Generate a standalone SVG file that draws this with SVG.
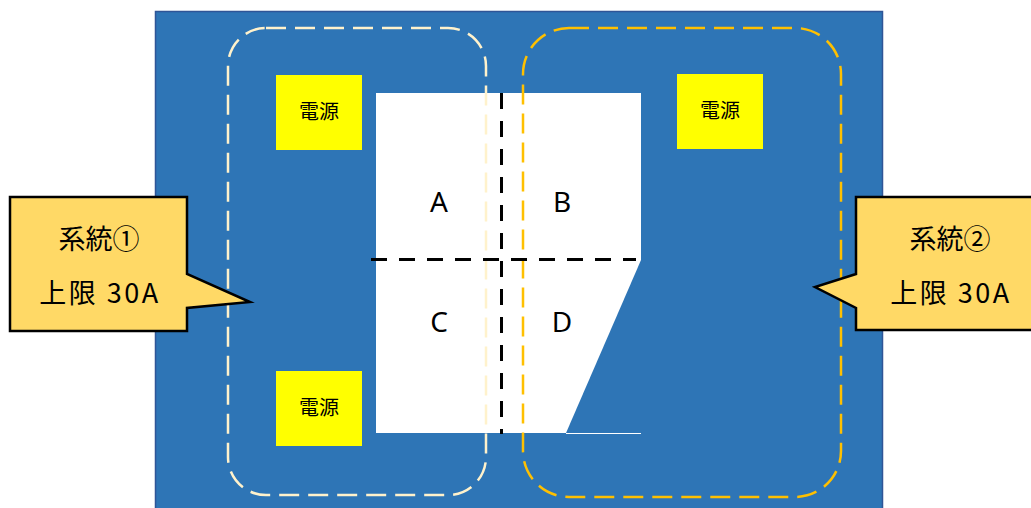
<svg xmlns="http://www.w3.org/2000/svg" width="1031" height="508" viewBox="0 0 1031 508">
<style>
.pwr{fill:#FFFF00}
.ptxt{font-family:"Noto Sans CJK JP","Noto Sans",sans-serif;font-size:20px;fill:#000;text-anchor:middle}
.lbl{font-family:"Noto Sans","Noto Sans CJK JP",sans-serif;font-size:28px;fill:#000;text-anchor:middle}
.ctxt{font-family:"Noto Sans CJK JP","Noto Sans",sans-serif;font-size:27px;fill:#000;text-anchor:middle}
.wide{letter-spacing:2.5px}
.call{fill:#FFD966;stroke:#000;stroke-width:2.5;stroke-linejoin:miter}
.div{stroke:#000;stroke-width:3;stroke-dasharray:16 12;fill:none}
</style>
<rect id="panel" x="155.5" y="11.5" width="727" height="510" fill="#2E75B6" stroke="#2F5597" stroke-width="1.5"/>
<g id="area">
<polygon points="376,93 641,93 641,260 566,433 376,433" fill="#FFFFFF"/>
<line x1="566" y1="433.5" x2="641" y2="433.5" stroke="#FFFFFF" stroke-width="1"/>
</g>
<g id="power1"><rect class="pwr" x="276" y="75" width="86" height="75"/><text class="ptxt" x="319" y="119">電源</text></g>
<g id="power2"><rect class="pwr" x="276" y="371" width="86" height="75"/><text class="ptxt" x="319" y="415">電源</text></g>
<g id="power3"><rect class="pwr" x="677" y="74" width="86" height="75"/><text class="ptxt" x="720" y="118">電源</text></g>
<g id="labels">
<text class="lbl" x="439" y="212">A</text>
<text class="lbl" x="562" y="212">B</text>
<text class="lbl" x="439" y="332">C</text>
<text class="lbl" x="562" y="332">D</text>
</g>
<g id="connectors">
<rect id="system1" x="228" y="28" width="258" height="467" rx="38" ry="38" fill="none" stroke="#FFF2CC" stroke-width="2.5" stroke-dasharray="20 9"/>
<rect id="system2" x="523" y="28" width="318" height="469" rx="46" ry="46" fill="none" stroke="#FFC000" stroke-width="2.5" stroke-dasharray="20 9"/>
<line class="div" x1="371" y1="259.5" x2="636" y2="259.5"/>
<line class="div" x1="501.5" y1="93" x2="501.5" y2="434"/>
</g>
<g id="callout1">
<path class="call" d="M10,197 H187 V274 L250,302 L187,308 V331 H10 Z"/>
<text class="ctxt" x="99" y="249">系統①</text>
<text class="ctxt wide" x="100" y="303">上限 30A</text>
</g>
<g id="callout2">
<path class="call" d="M856,197 H1036 V330 H856 V308 L815,287 L856,274 Z"/>
<text class="ctxt" x="950" y="249">系統②</text>
<text class="ctxt wide" x="951" y="303">上限 30A</text>
</g>
</svg>
